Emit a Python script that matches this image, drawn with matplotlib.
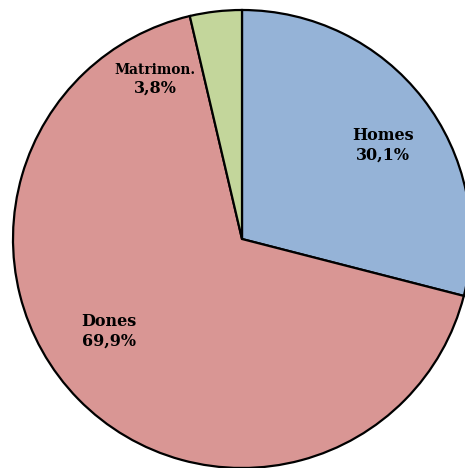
import matplotlib
matplotlib.use("Agg")
import matplotlib.pyplot as plt

labels = ["Homes", "Dones", "Matrimon."]
values = [30.1, 69.9, 3.8]
label_text = ["30,1%", "69,9%", "3,8%"]
colors = ["#95B3D7", "#D99694", "#C3D69B"]

fig = plt.figure(figsize=(4.65, 4.68), dpi=100)
# pie centred at pixel (242, 239) with radius 229
ax = fig.add_axes([13 / 465, 0 / 468, 458 / 465, 458 / 468])
ax.pie(values, colors=colors, startangle=90, counterclock=False,
       wedgeprops=dict(edgecolor="black", linewidth=1.6))
ax.set_xlim(-1, 1)
ax.set_ylim(-1, 1)
ax.set_aspect("equal")
ax.axis("off")

# label positions in data coords: (x, y name, y pct)
pos = [(0.614, 0.452, 0.367), (-0.581, -0.362, -0.448), (-0.380, 0.738, 0.659)]
name_sizes = [11.5, 11.5, 9.8]
for name, txt, (x, yn, yp), s in zip(labels, label_text, pos, name_sizes):
    ax.text(x, yn, name, ha="center", va="center",
            fontsize=s, fontweight="bold", family="DejaVu Serif")
    ax.text(x, yp, txt, ha="center", va="center",
            fontsize=11.5, fontweight="bold", family="DejaVu Serif")

fig.savefig("out.png", dpi=100)
